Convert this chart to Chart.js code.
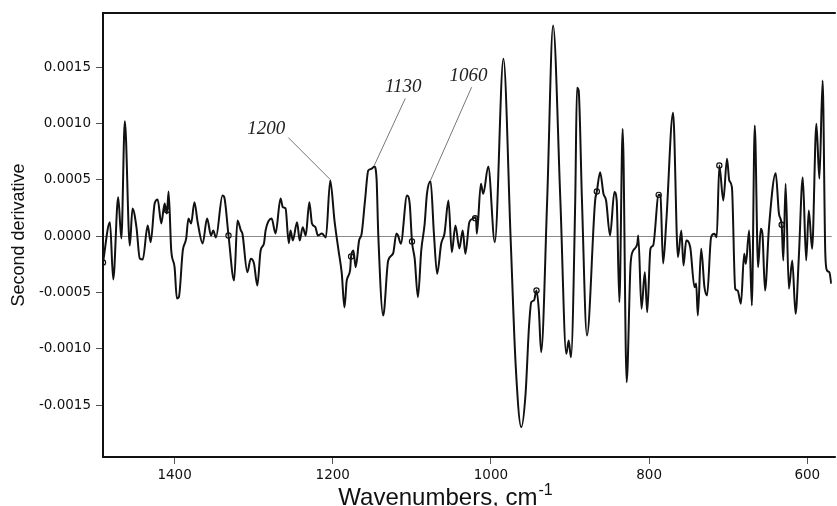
<!DOCTYPE html>
<html>
<head>
<meta charset="utf-8">
<title>Second derivative spectrum</title>
<script src="https://cdn.jsdelivr.net/npm/chart.js@4.4.1/dist/chart.umd.min.js"></script>
<style>
  html, body { margin: 0; padding: 0; background: #fff; overflow: hidden; }
  #spectrum { display: block; }
</style>
</head>
<body>
<canvas id="spectrum" width="837" height="506"></canvas>
<script>
// wavenumbers (cm-1), left to right
const wavenumbers = [
  1490.5, 1481.7, 1477.6, 1471.3, 1467.3, 1462.9, 1456.6, 1453.2, 1448.2, 1444.0,
  1440.2, 1434.0, 1430.2, 1425.2, 1421.4, 1416.8, 1412.6, 1409.7, 1407.6, 1404.2,
  1400.0, 1397.1, 1394.6, 1389.6, 1385.3, 1382.5, 1379.1, 1374.9, 1370.8, 1364.5,
  1358.9, 1353.9, 1351.1, 1347.7, 1339.4, 1337.2, 1331.8, 1324.7, 1320.5, 1316.2,
  1314.2, 1308.0, 1303.7, 1299.6, 1295.4, 1291.2, 1287.0, 1284.9, 1277.3, 1272.3,
  1266.0, 1263.1, 1259.7, 1255.6, 1253.4, 1250.5, 1245.1, 1241.8, 1238.0, 1234.2,
  1229.6, 1226.3, 1222.0, 1218.8, 1213.7, 1208.7, 1203.2, 1197.8, 1192.7, 1188.6,
  1185.2, 1182.3, 1178.1, 1176.8, 1173.9, 1171.0, 1166.7, 1163.5, 1159.2, 1155.1,
  1150.9, 1147.5, 1144.6, 1142.5, 1136.2, 1129.9, 1123.7, 1119.5, 1117.4, 1114.0,
  1106.1, 1102.7, 1099.8, 1096.4, 1092.3, 1088.1, 1083.8, 1080.9, 1076.3, 1072.1,
  1068.0, 1062.9, 1058.7, 1053.7, 1049.5, 1044.9, 1039.9, 1035.7, 1032.3, 1027.3,
  1023.2, 1019.0, 1017.8, 1012.7, 1009.7, 1003.4, 995.1, 984.2, 975.0, 968.8,
  961.6, 956.2, 951.9, 949.0, 945.6, 942.4, 939.4, 936.5, 928.9, 921.4,
  912.2, 904.7, 901.7, 898.8, 893.4, 891.2, 889.1, 884.9, 878.6, 868.2,
  866.1, 861.9, 857.7, 854.4, 849.4, 843.9, 841.0, 837.6, 833.4, 828.4,
  823.4, 820.0, 814.9, 813.7, 809.6, 805.4, 802.4, 798.3, 794.9, 787.9,
  785.7, 782.3, 778.2, 769.7, 763.5, 759.3, 756.5, 753.1, 748.0, 742.6,
  740.5, 738.4, 734.2, 730.0, 726.7, 721.6, 717.5, 714.5, 711.2, 706.2,
  701.5, 698.6, 695.3, 691.1, 688.1, 683.9, 679.8, 677.7, 673.5, 670.1,
  666.4, 662.2, 658.8, 656.7, 653.4, 648.4, 639.9, 635.8, 632.4, 630.3,
  627.4, 623.3, 619.0, 614.8, 610.7, 605.7, 601.4, 598.1, 593.9, 588.5,
  584.7, 580.6, 577.2, 575.1, 572.1, 569.6
];

// second derivative values at those wavenumbers
const secondDeriv = [
  -0.000233, 0.000124, -0.000384, 0.000346, -0.000020, 0.001021, -0.000083, 0.000246, 0.000080, -0.000198,
  -0.000207, 0.000095, -0.000053, 0.000290, 0.000326, 0.000113, 0.000290, 0.000201, 0.000397, -0.000127,
  -0.000275, -0.000553, -0.000541, -0.000127, -0.000020, 0.000157, 0.000113, 0.000302, 0.000124, -0.000065,
  0.000157, 0.000006, 0.000051, -0.000012, 0.000361, 0.000346, 0.000006, -0.000393, 0.000139, 0.000051,
  0.000021, -0.000320, -0.000200, -0.000242, -0.000438, -0.000127, -0.000065, 0.000051, 0.000157, 0.000024,
  0.000335, 0.000257, 0.000246, -0.000062, 0.000051, -0.000038, 0.000124, -0.000038, 0.000080, 0.000006,
  0.000302, 0.000113, 0.000080, 0.000006, 0.000024, -0.000012, 0.000494, 0.000139, -0.000127, -0.000331,
  -0.000633, -0.000393, -0.000304, -0.000180, -0.000127, -0.000275, -0.000038, 0.000021, 0.000317, 0.000583,
  0.000598, 0.000619, 0.000509, 0.000024, -0.000704, -0.000216, -0.000154, 0.000024, 0.000006, -0.000067,
  0.000361, 0.000288, -0.000047, -0.000200, -0.000541, -0.000127, 0.000110, 0.000376, 0.000488, 0.000024,
  -0.000334, -0.000067, 0.000024, 0.000317, -0.000142, 0.000095, -0.000109, 0.000051, -0.000156, 0.000124,
  0.000154, 0.000169, 0.000021, 0.000465, 0.000376, 0.000619, -0.000053, 0.001575, -0.000038, -0.001133,
  -0.001695, -0.001399, -0.000808, -0.000586, -0.000571, -0.000482, -0.000659, -0.001030, 0.000317, 0.001870,
  0.000317, -0.001044, -0.000926, -0.001074, 0.000317, 0.001317, 0.001293, 0.000317, -0.000881, 0.000317,
  0.000397, 0.000568, 0.000376, 0.000317, 0.000006, 0.000391, 0.000317, -0.000586, 0.000953, -0.001296,
  -0.000245, -0.000127, -0.000067, 0.000006, -0.000644, -0.000320, -0.000675, -0.000112, -0.000083, 0.000367,
  0.000361, -0.000242, 0.000139, 0.001095, -0.000186, 0.000051, -0.000260, -0.000038, -0.000098, -0.000453,
  -0.000420, -0.000704, -0.000112, -0.000453, -0.000526, -0.000009, 0.000021, -0.000009, 0.000628, 0.000317,
  0.000687, 0.000494, 0.000435, -0.000467, -0.000482, -0.000600, -0.000156, -0.000245, 0.000051, -0.000615,
  0.000983, -0.000275, 0.000066, 0.000021, -0.000482, 0.000080, 0.000559, 0.000199, 0.000101, -0.000216,
  0.000465, -0.000467, -0.000216, -0.000689, -0.000186, 0.000524, -0.000216, 0.000228, -0.000112, 0.000998,
  0.000509, 0.001382, -0.000156, -0.000304, -0.000320, -0.000422
];

// small open circles marked on the trace
const markerWn = [1490.5, 1409.7, 1331.8, 1176.8, 1099.8, 1020.0, 942.4, 866.1, 787.9, 711.2, 632.4];
const markerVal = [-0.000233, 0.000230, 0.000006, -0.000180, -0.000047, 0.000160, -0.000482, 0.000397, 0.000367, 0.000628, 0.000101];

// labelled bands: text, peak it points at, offsets of line start and text (px)
const bandLabels = ['1200', '1130', '1060'];
const bandWn = [1203.2, 1147.5, 1076.3];
const bandVal = [0.000494, 0.000619, 0.000488];
const bandLine = [[-42, -43], [31, -68], [41, -94]];
const bandText = [[-64, -52], [29, -79], [38, -105]];

const xTicks = [600, 800, 1000, 1200, 1400];
const yTicks = [-0.0015, -0.0010, -0.0005, 0, 0.0005, 0.0010, 0.0015];

const tickFont = { family: '"DejaVu Sans", sans-serif', size: 13.5 };

// box around the plot (open on the right, like the scan)
const framePlugin = {
  id: 'frame',
  afterDraw(chart) {
    const { ctx, chartArea: a } = chart;
    ctx.save();
    ctx.strokeStyle = '#111';
    ctx.lineWidth = 2;
    ctx.beginPath();
    ctx.moveTo(a.right + 4, a.top);
    ctx.lineTo(a.left, a.top);
    ctx.lineTo(a.left, a.bottom);
    ctx.lineTo(a.right + 4, a.bottom);
    ctx.stroke();
    ctx.restore();
  }
};

// axis titles and band labels
const textPlugin = {
  id: 'texts',
  afterDraw(chart) {
    const { ctx, chartArea: a, scales } = chart;
    ctx.save();
    ctx.fillStyle = '#111';

    ctx.save();
    ctx.translate(19, (a.top + a.bottom) / 2);
    ctx.rotate(-Math.PI / 2);
    ctx.font = '18px "Liberation Sans", Arial, sans-serif';
    ctx.textAlign = 'center';
    ctx.textBaseline = 'middle';
    ctx.fillText('Second derivative', 0, 0);
    ctx.restore();

    const main = 'Wavenumbers, cm';
    const sup = '-1';
    ctx.font = '24px "Liberation Sans", Arial, sans-serif';
    const w1 = ctx.measureText(main).width;
    ctx.font = '16px "Liberation Sans", Arial, sans-serif';
    const w2 = ctx.measureText(sup).width;
    const x0 = 445 - (w1 + w2) / 2;
    ctx.textAlign = 'left';
    ctx.textBaseline = 'alphabetic';
    ctx.font = '24px "Liberation Sans", Arial, sans-serif';
    ctx.fillText(main, x0, 505);
    ctx.font = '16px "Liberation Sans", Arial, sans-serif';
    ctx.fillText(sup, x0 + w1 + 1, 495);

    ctx.font = 'italic 19px "Liberation Serif", "Times New Roman", serif';
    ctx.textAlign = 'center';
    ctx.textBaseline = 'middle';
    ctx.strokeStyle = '#777';
    ctx.lineWidth = 1;
    bandLabels.forEach((t, i) => {
      const px = scales.x.getPixelForValue(bandWn[i]);
      const py = scales.y.getPixelForValue(bandVal[i]);
      ctx.beginPath();
      ctx.moveTo(px + bandLine[i][0], py + bandLine[i][1]);
      ctx.lineTo(px, py - 1);
      ctx.stroke();
      ctx.fillStyle = '#222';
      ctx.fillText(t, px + bandText[i][0], py + bandText[i][1]);
    });
    ctx.restore();
  }
};

const ctx = document.getElementById('spectrum').getContext('2d');
const spectrumChart = new Chart(ctx, {
  type: 'line',
  data: {
    datasets: [
      {
        label: 'Second derivative',
        data: wavenumbers.map((w, i) => ({ x: w, y: secondDeriv[i] })),
        borderColor: '#111',
        borderWidth: 2,
        pointRadius: 0,
        cubicInterpolationMode: 'monotone',
        fill: false
      },
      {
        type: 'scatter',
        label: 'markers',
        data: markerWn.map((w, i) => ({ x: w, y: markerVal[i] })),
        showLine: false,
        pointStyle: 'circle',
        pointRadius: 2.6,
        borderColor: '#111',
        borderWidth: 1.2,
        backgroundColor: '#fff'
      }
    ]
  },
  options: {
    responsive: false,
    animation: false,
    layout: { padding: { top: 13, right: 0, bottom: 0, left: 0 } },
    plugins: {
      legend: { display: false },
      tooltip: { enabled: false }
    },
    scales: {
      x: {
        type: 'linear',
        reverse: true,
        min: 569,
        max: 1490.5,
        afterFit: s => { s.height = 49; },
        afterBuildTicks: s => { s.ticks = xTicks.map(v => ({ value: v })); },
        border: { display: false },
        grid: { color: 'transparent', tickColor: '#555', tickLength: 7, drawTicks: true },
        ticks: { font: tickFont, color: '#111', padding: 3, maxRotation: 0, callback: v => String(v) }
      },
      y: {
        min: -0.00196,
        max: 0.00198,
        afterFit: s => { s.width = 103; },
        afterBuildTicks: s => { s.ticks = yTicks.map(v => ({ value: v })); },
        border: { display: false },
        grid: {
          color: c => (Math.abs(c.tick.value) < 1e-9 ? '#8a8a8a' : 'transparent'),
          lineWidth: 1,
          tickColor: '#555',
          tickLength: 7,
          drawTicks: true
        },
        ticks: {
          font: tickFont,
          color: '#111',
          padding: 5,
          callback: v => (Math.abs(v) < 1e-9 ? '0.0000' : v.toFixed(4))
        }
      }
    }
  },
  plugins: [framePlugin, textPlugin]
});
</script>
</body>
</html>
